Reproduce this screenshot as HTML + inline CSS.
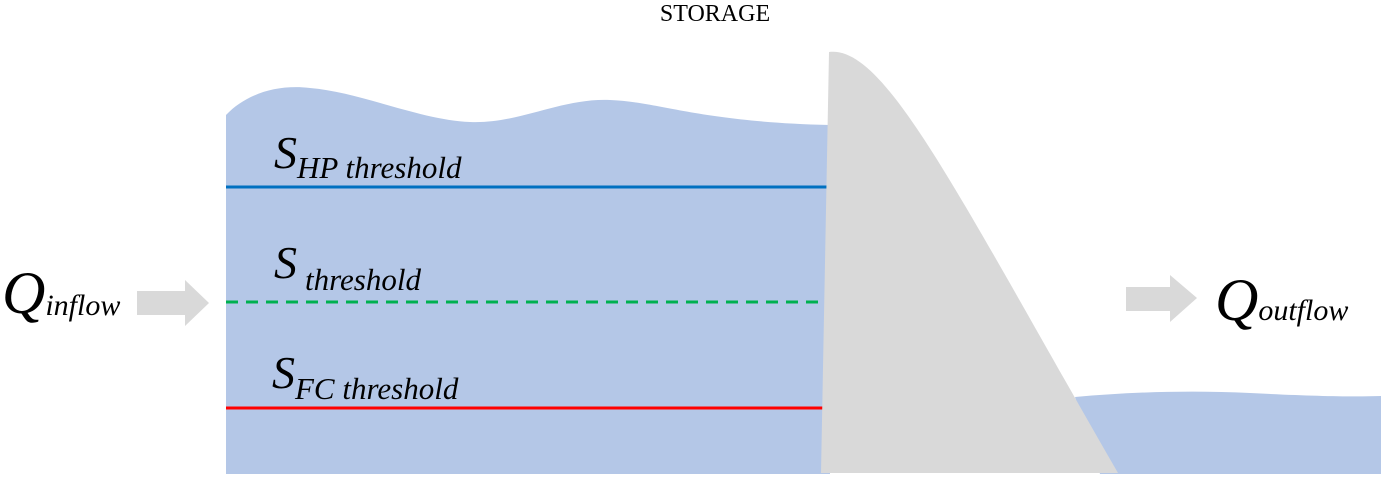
<!DOCTYPE html>
<html><head><meta charset="utf-8"><style>
html,body{margin:0;padding:0;background:#fff;width:1391px;height:484px;overflow:hidden}
svg{display:block}
text{font-family:"Liberation Serif",serif}
</style></head><body>
<svg width="1391" height="484" viewBox="0 0 1391 484">
<path d="M226 115 C245 95 275 84 310 88 C360 92 420 120 470 122 C520 124 560 98 610 100 C660 102 700 122 830 125 L830 474 L226 474 Z" fill="#b4c7e7"/>
<path d="M1075 397 C1130 392 1190 390 1250 393 C1310 396 1350 397 1381 396 L1381 474 L1100 474 Z" fill="#b4c7e7"/>
<line x1="226" y1="187" x2="828" y2="187" stroke="#0070c0" stroke-width="3"/>
<line x1="226" y1="302" x2="828" y2="302" stroke="#00b050" stroke-width="3" stroke-dasharray="12,8"/>
<line x1="226" y1="408" x2="828" y2="408" stroke="#ff0000" stroke-width="3"/>
<path d="M829 52 C885 45 955 190 1118 473 L821 473 Z" fill="#d9d9d9"/>
<path d="M137 291 H185 V280 L209 303 L185 326 V315 H137 Z" fill="#d9d9d9"/>
<path d="M1126 287 H1170 V275 L1197 298 L1170 322 V311 H1126 Z" fill="#d9d9d9"/>
<text x="715" y="21" font-size="24" text-anchor="middle">STORAGE</text>
<text x="274" y="168" font-size="46" font-style="italic">S<tspan font-size="31" dy="10">HP threshold</tspan></text>
<text x="274" y="278" font-size="46" font-style="italic">S<tspan font-size="31" dx="8" dy="12">threshold</tspan></text>
<text x="272" y="388" font-size="46" font-style="italic">S<tspan font-size="31" dy="11">FC threshold</tspan></text>
<text x="2" y="313" font-size="60" font-style="italic">Q<tspan font-size="30" dy="2">inflow</tspan></text>
<text x="1215" y="320" font-size="60" font-style="italic">Q<tspan font-size="30" dy="0">outflow</tspan></text>
</svg>
</body></html>
